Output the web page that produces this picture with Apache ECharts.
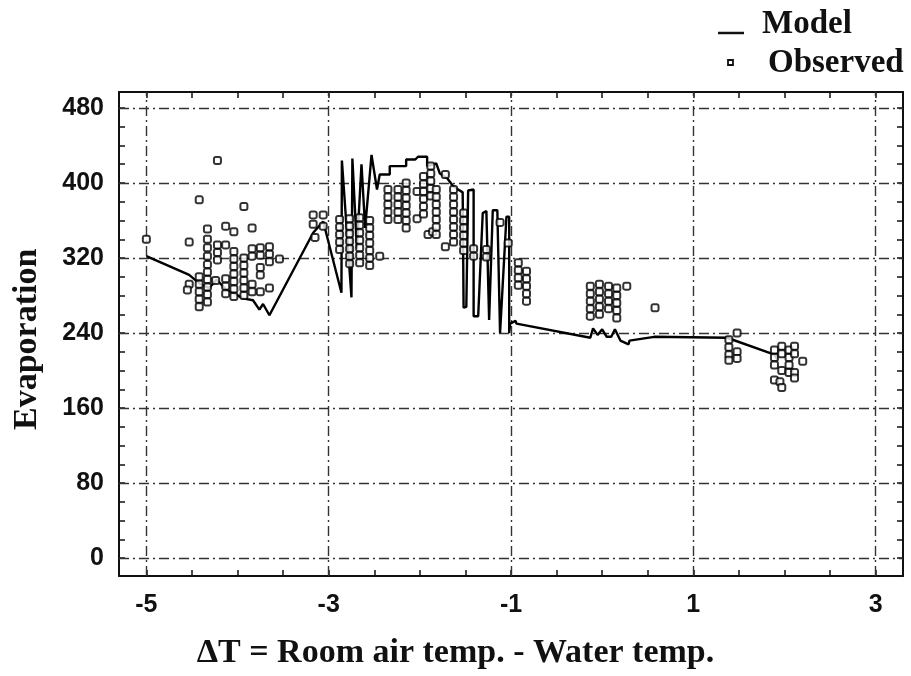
<!DOCTYPE html>
<html>
<head>
<meta charset="utf-8">
<script src="https://cdn.jsdelivr.net/npm/echarts@6/dist/echarts.min.js"></script>
<style>
html,body{margin:0;padding:0;background:#fff;}
#chart{width:911px;height:676px;}
</style>
</head>
<body>
<div id="chart"></div>
<script>
// ---- data ----
const xTickLabels = [-5, -3, -1, 1, 3];
const yTickLabels = [0, 80, 160, 240, 320, 400, 480];
const xMinorTicks = [-5,-4.5,-4,-3.5,-3,-2.5,-2,-1.5,-1,-0.5,0,0.5,1,1.5,2,2.5,3];
const yMinorTicks = [0,20,40,60,80,100,120,140,160,180,200,220,240,260,280,300,320,340,360,380,400,420,440,460,480];

const modelLine = [
  [-5.00,322],[-4.53,302],[-4.42,293],[-4.31,288],[-4.23,297],[-4.12,286],[-4.05,283],
  [-3.94,277],[-3.83,275],[-3.76,265],[-3.72,271],[-3.65,259],[-3.17,347],[-3.06,359],
  [-2.86,283],[-2.855,424],[-2.75,278],[-2.74,426],[-2.69,330],[-2.64,420],[-2.60,352],
  [-2.53,430],[-2.47,393],[-2.44,409],[-2.33,409],[-2.33,418],[-2.15,418],[-2.15,425],
  [-2.05,425],[-2.02,428],[-1.92,428],[-1.92,418],[-1.82,421],[-1.78,410],[-1.70,405],
  [-1.63,396],[-1.58,393],[-1.53,390],[-1.52,267],[-1.49,268],[-1.47,392],[-1.41,393],
  [-1.41,258],[-1.36,258],[-1.31,368],[-1.27,370],[-1.24,254],[-1.22,254],[-1.20,371],
  [-1.15,371],[-1.12,240],[-1.10,240],[-1.05,364],[-1.02,364],[-1.02,240],[-1.01,250],
  [-0.95,253],[-0.94,250],[-0.13,235],[-0.10,245],[-0.05,238],[0.00,244],[0.05,236],
  [0.10,236],[0.14,244],[0.20,232],[0.29,228],[0.30,232],[0.57,236],[1.37,235],
  [1.89,217],[1.92,212]
];

const observed = [
  [-5.00,340],
  [-4.53,337],[-4.53,292],[-4.55,286],
  [-4.42,382],[-4.42,300],[-4.42,292],[-4.42,284],[-4.42,276],[-4.42,268],
  [-4.33,351],[-4.33,340],[-4.33,331],[-4.33,322],[-4.33,313],[-4.33,305],[-4.33,297],[-4.33,289],[-4.33,281],[-4.33,273],
  [-4.22,424],[-4.22,334],[-4.22,326],[-4.22,318],[-4.24,296],
  [-4.13,354],[-4.13,334],[-4.13,298],[-4.13,290],[-4.13,282],
  [-4.04,348],[-4.04,327],[-4.04,319],[-4.04,311],[-4.04,303],[-4.04,295],[-4.04,287],[-4.04,279],
  [-3.93,375],[-3.93,320],[-3.93,312],[-3.93,304],[-3.93,296],[-3.93,288],[-3.93,280],
  [-3.84,352],[-3.84,330],[-3.84,322],[-3.84,292],[-3.84,284],
  [-3.75,331],[-3.75,323],[-3.75,310],[-3.75,302],[-3.75,284],
  [-3.65,332],[-3.65,324],[-3.65,316],[-3.65,288],
  [-3.54,319],
  [-3.17,366],[-3.17,356],[-3.15,342],[-3.06,366],[-3.06,354],
  [-2.88,361],[-2.88,353],[-2.88,345],[-2.88,337],[-2.88,329],
  [-2.77,362],[-2.77,354],[-2.77,346],[-2.77,338],[-2.77,330],[-2.77,322],[-2.77,314],
  [-2.66,363],[-2.66,355],[-2.66,347],[-2.66,339],[-2.66,331],[-2.66,323],[-2.66,315],
  [-2.55,360],[-2.55,352],[-2.55,344],[-2.55,336],[-2.55,328],[-2.55,320],[-2.55,312],
  [-2.44,322],
  [-2.35,393],[-2.35,385],[-2.35,377],[-2.35,369],[-2.35,361],
  [-2.24,393],[-2.24,385],[-2.24,377],[-2.24,369],[-2.24,361],
  [-2.15,400],[-2.15,392],[-2.15,384],[-2.15,376],[-2.15,368],[-2.15,360],[-2.15,352],
  [-2.03,391],[-2.03,362],
  [-1.96,407],[-1.96,399],[-1.96,391],[-1.96,383],[-1.96,375],[-1.96,367],
  [-1.91,345],
  [-1.88,418],[-1.88,410],[-1.88,402],[-1.88,394],[-1.88,386],[-1.86,348],
  [-1.82,393],[-1.82,385],[-1.82,377],[-1.82,369],[-1.82,361],[-1.82,353],[-1.82,345],
  [-1.72,409],[-1.72,332],
  [-1.63,393],[-1.63,385],[-1.63,377],[-1.63,369],[-1.63,361],[-1.63,353],[-1.63,345],[-1.63,337],
  [-1.52,368],[-1.52,360],[-1.52,352],[-1.52,344],[-1.52,336],[-1.52,328],
  [-1.41,330],[-1.41,322],
  [-1.27,329],[-1.27,321],
  [-1.12,358],
  [-1.03,336],
  [-0.92,315],[-0.92,307],[-0.92,299],[-0.92,291],
  [-0.83,306],[-0.83,298],[-0.83,290],[-0.83,282],[-0.83,274],
  [-0.13,290],[-0.13,282],[-0.13,274],[-0.13,266],[-0.13,258],
  [-0.03,292],[-0.03,284],[-0.03,276],[-0.03,268],[-0.03,260],
  [0.07,290],[0.07,282],[0.07,274],[0.07,266],
  [0.16,288],[0.16,280],[0.16,272],[0.16,264],[0.16,256],
  [0.27,290],
  [0.58,267],
  [1.39,233],[1.39,225],[1.39,217],[1.39,211],
  [1.48,240],[1.48,220],[1.48,213],
  [1.89,222],[1.89,214],[1.89,206],[1.89,190],
  [1.97,226],[1.97,218],[1.97,200],[1.95,188],[1.97,182],
  [2.05,222],[2.05,214],[2.05,206],[2.05,198],
  [2.11,226],[2.11,218],[2.11,198],[2.11,192],
  [2.20,210]
];

// ---- chart ----
const X_MIN = -5.3, X_MAX = 3.3, Y_MIN = -19, Y_MAX = 497;
const serif = "'Liberation Serif','DejaVu Serif',serif";
const sans = "'Liberation Sans',Arial,sans-serif";

const chart = echarts.init(document.getElementById('chart'), null, {renderer:'canvas'});

function xAxisDef(pos, showLabels){
  return {
    type:'value', position:pos, min:X_MIN, max:X_MAX,
    axisLine:{show:true, onZero:false, lineStyle:{color:'#111', width:2}},
    axisTick:{show:true, inside:true, length:6, customValues:xMinorTicks, lineStyle:{color:'#111', width:1.5}},
    axisLabel:{show:showLabels, customValues:xTickLabels, fontFamily:sans, fontWeight:'bold', fontSize:25, color:'#111', margin:17},
    splitLine:{show:false}
  };
}
function yAxisDef(pos, showLabels){
  return {
    type:'value', position:pos, min:Y_MIN, max:Y_MAX,
    axisLine:{show:true, onZero:false, lineStyle:{color:'#111', width:2}},
    axisTick:{show:true, inside:true, length:6, customValues:yMinorTicks, lineStyle:{color:'#111', width:1.5}},
    axisLabel:{show:showLabels, customValues:yTickLabels, fontFamily:sans, fontWeight:'bold', fontSize:25, color:'#111', margin:15},
    splitLine:{show:false}
  };
}

const gridStyle = {color:'#333', width:1.4, type:[10,4,2,4]};
const gridLines = [];
xTickLabels.forEach(v => gridLines.push({xAxis:v}));
yTickLabels.forEach(v => gridLines.push({yAxis:v}));

chart.setOption({
  animation:false,
  backgroundColor:'#fff',
  grid:{left:119, right:8, top:92, bottom:100, containLabel:false},
  xAxis:[xAxisDef('bottom', true), xAxisDef('top', false)],
  yAxis:[yAxisDef('left', true), yAxisDef('right', false)],
  graphic:[
    {type:'text', rotation:Math.PI/2, x:10, y:430, style:{text:'Evaporation', font:'bold 34px ' + serif, fill:'#111'}},
    {type:'text', left:'center', top:636, style:{text:'\u0394T = Room air temp. - Water temp.', font:'bold 34px ' + serif, fill:'#111'}},
    {type:'line', shape:{x1:718, y1:33, x2:744, y2:33}, style:{stroke:'#111', lineWidth:2.5}},
    {type:'text', left:762, top:8, style:{text:'Model', font:'bold 33px ' + serif, fill:'#111'}},
    {type:'rect', shape:{x:728, y:60, width:5, height:5}, style:{stroke:'#111', fill:'#fff', lineWidth:1.8}},
    {type:'text', left:768, top:47, style:{text:'Observed', font:'bold 33px ' + serif, fill:'#111'}}
  ],
  series:[
    {
      name:'Model', type:'line', data:modelLine, showSymbol:false, symbol:'none',
      lineStyle:{color:'#000', width:2.4}, z:3,
      markLine:{silent:true, symbol:['none','none'], label:{show:false}, lineStyle:gridStyle, data:gridLines, z:1}
    },
    {
      name:'Observed', type:'scatter', data:observed, symbol:'emptyRoundRect', symbolSize:[7,7],
      itemStyle:{color:'#000', borderColor:'#000', borderWidth:2.2}, z:4
    }
  ]
});
</script>
</body>
</html>
